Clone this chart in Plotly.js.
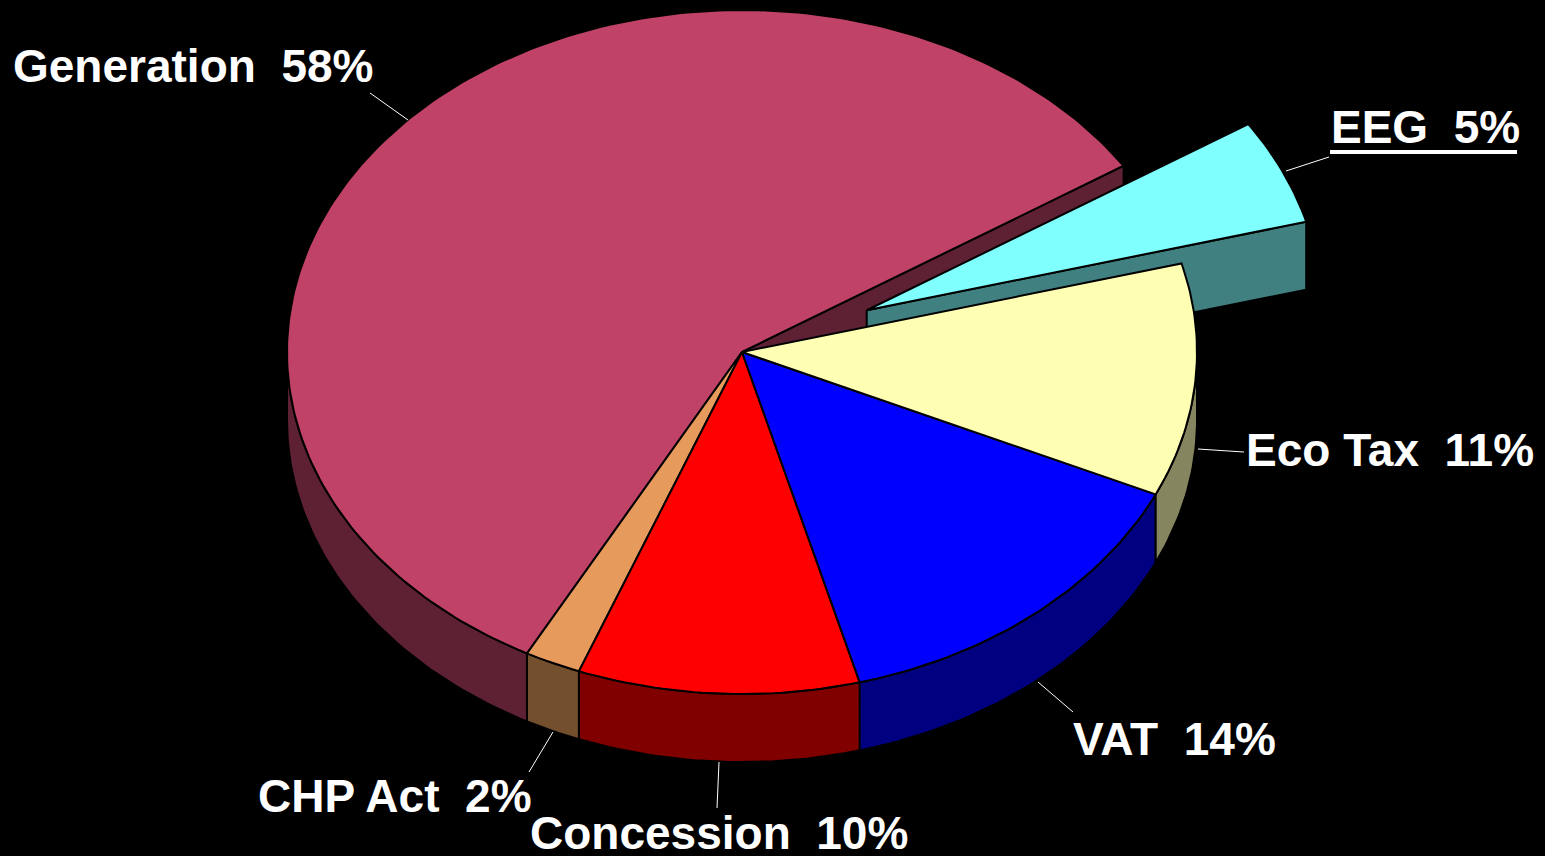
<!DOCTYPE html>
<html><head><meta charset="utf-8">
<script src="https://cdn.plot.ly/plotly-3.0.1.min.js"></script>
<style>html,body{margin:0;padding:0;background:#000;}#chart{width:1545px;height:856px;}</style>
</head><body><div id="chart"></div>
<script>
// ---- data ----
const labels = ['EEG', 'Eco Tax', 'VAT', 'Concession', 'CHP Act', 'Generation'];
const values = [5, 11, 14, 10, 2, 58];
const pctLabels = ['5%', '11%', '14%', '10%', '2%', '58%'];
const topColors = ['#80FFFF', '#FFFFB3', '#0000FF', '#FF0000', '#E69A5C', '#C04367'];
const sideColors = ['#408080', '#85855F', '#000080', '#800000', '#734F2E', '#5E2134'];
const pulls = [0.30, 0, 0, 0, 0, 0];

// ---- geometry (layout constants) ----
const CX = 742, CY = 352, RX = 455, RY = 342, DEPTH = 68, START = 33;
const total = values.reduce((a, b) => a + b, 0);

function pt(t, ox, oy, dz) {
  const r = t * Math.PI / 180;
  return [CX + ox + RX * Math.cos(r), CY + oy - RY * Math.sin(r) + (dz || 0)];
}
function arc(t1, t2, ox, oy, dz) {
  const pts = [];
  const n = Math.max(2, Math.ceil(Math.abs(t2 - t1)));
  for (let i = 0; i <= n; i++) pts.push(pt(t1 + (t2 - t1) * i / n, ox, oy, dz));
  return pts;
}
// slices go clockwise from START
const slices = [];
let a = START;
values.forEach((v, i) => {
  const span = v / total * 360;
  const t1 = a, t2 = a - span;
  const mid = (t1 + t2) / 2 * Math.PI / 180;
  const ox = pulls[i] * RX * Math.cos(mid), oy = -pulls[i] * RY * Math.sin(mid);
  slices.push({i, t1, t2, ox, oy});
  a = t2;
});

function poly(pts, fill) {
  return {type: 'scatter', mode: 'lines', x: pts.map(p => p[0]), y: pts.map(p => p[1]),
    fill: 'toself', fillcolor: fill, line: {color: '#000', width: 2}, hoverinfo: 'skip', showlegend: false};
}
const traces = [];
function radialFace(s, t) {
  const c = [CX + s.ox, CY + s.oy];
  const o = pt(t, s.ox, s.oy, 0);
  const ob = pt(t, s.ox, s.oy, DEPTH);
  return [c, o, ob, [c[0], c[1] + DEPTH], c];
}
const gen = slices[5], eeg = slices[0];
// cut faces revealed by the exploded EEG slice
traces.push(poly(radialFace(gen, gen.t2), sideColors[5]));
traces.push(poly(radialFace(eeg, eeg.t2), sideColors[0]));
// front walls
slices.slice().reverse().forEach(s => {
  const a1 = Math.max(s.t2, -180), a2 = Math.min(s.t1, 0);
  if (a2 > a1) {
    const top = arc(a2, a1, s.ox, s.oy, 0);
    const bot = arc(a1, a2, s.ox, s.oy, DEPTH);
    const pts = top.concat(bot); pts.push(top[0]);
    traces.push(poly(pts, sideColors[s.i]));
  }
});
// tops
[5, 4, 3, 2, 1, 0].forEach(k => {
  const s = slices[k];
  const c = [CX + s.ox, CY + s.oy];
  const pts = [c].concat(arc(s.t1, s.t2, s.ox, s.oy, 0)); pts.push(c);
  traces.push(poly(pts, topColors[k]));
});

// labels
const labelPos = {
  'EEG': [1329, 127], 'Eco Tax': [1244, 450], 'VAT': [1071, 739],
  'Concession': [528, 833], 'CHP Act': [256, 796], 'Generation': [11, 66]
};
const leaders = {
  'EEG': [1286, 171, 1329, 157], 'Eco Tax': [1198, 449, 1244, 452], 'VAT': [1038, 682, 1073, 712],
  'Concession': [719, 762, 717, 808], 'CHP Act': [553, 732, 529, 772], 'Generation': [408, 120, 370, 93]
};
const annotations = labels.map((l, i) => ({
  x: labelPos[l][0], y: labelPos[l][1], xref: 'x', yref: 'y', xanchor: 'left', yanchor: 'middle',
  text: '<b>' + l + ' \u00A0' + pctLabels[i] + '</b>', showarrow: false,
  font: {family: 'Arial, "Liberation Sans", sans-serif', size: 46, color: '#fff'}
}));
const shapes = labels.map(l => ({type: 'line', xref: 'x', yref: 'y',
  x0: leaders[l][0], y0: leaders[l][1], x1: leaders[l][2], y1: leaders[l][3],
  line: {color: '#fff', width: 1}}));
// underline of the EEG label
shapes.push({type: 'line', xref: 'x', yref: 'y', x0: 1330, x1: 1517, y0: 152, y1: 152,
  line: {color: '#fff', width: 4}});

Plotly.newPlot('chart', traces, {
  width: 1545, height: 856, paper_bgcolor: '#000', plot_bgcolor: '#000',
  margin: {l: 0, r: 0, t: 0, b: 0}, showlegend: false,
  xaxis: {range: [0, 1545], visible: false, fixedrange: true},
  yaxis: {range: [856, 0], visible: false, fixedrange: true},
  annotations, shapes
}, {displayModeBar: false, staticPlot: true});
</script></body></html>
